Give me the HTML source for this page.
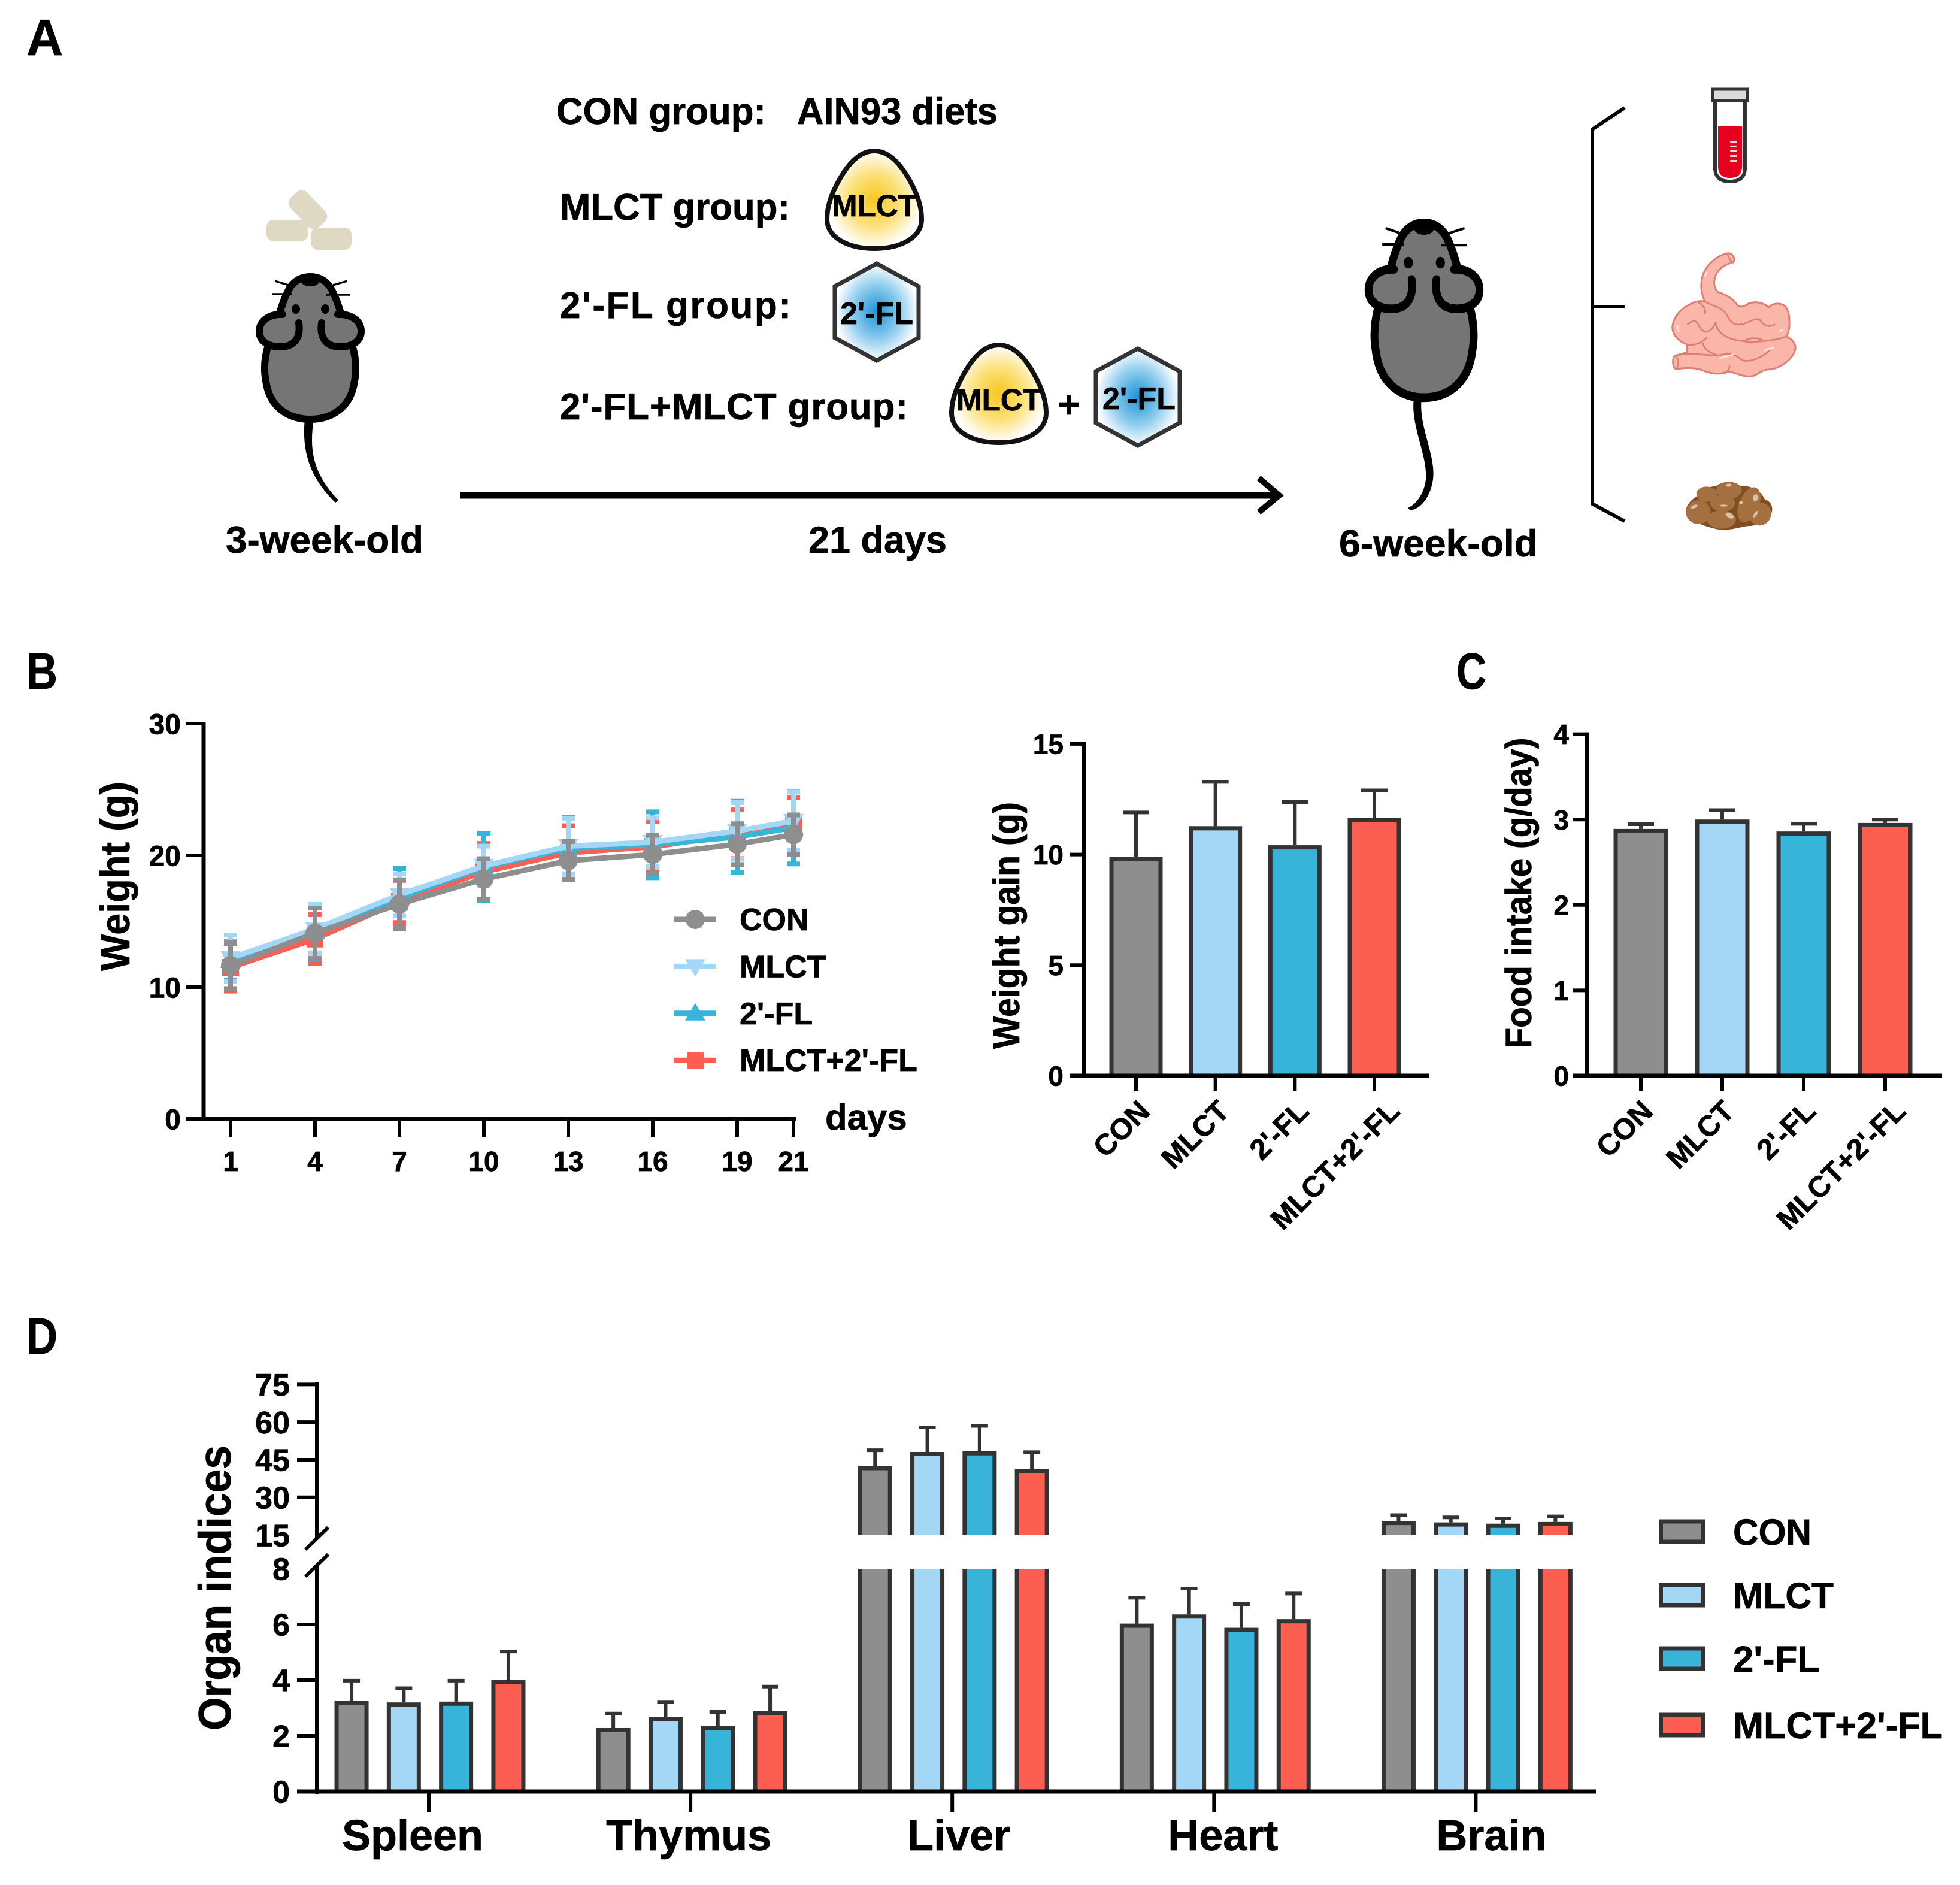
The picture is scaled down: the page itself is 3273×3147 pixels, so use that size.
<!DOCTYPE html>
<html lang="en"><head><meta charset="utf-8"><title>Study design and organ indices</title>
<style>
html,body{margin:0;padding:0;background:#fff}
svg{display:block}
text{font-family:"Liberation Sans",Arial,sans-serif;font-weight:700;fill:#000;stroke:#000;stroke-width:.7px}
</style></head>
<body>
<svg id="fig" xmlns="http://www.w3.org/2000/svg" width="3273" height="3147" viewBox="0 0 3273 3147">
<defs>
<radialGradient id="gy"><stop offset="0" stop-color="#F8C61F"/><stop offset=".55" stop-color="#FBE27E"/><stop offset="1" stop-color="#fff"/></radialGradient>
<radialGradient id="gb"><stop offset="0" stop-color="#1A94D8"/><stop offset=".55" stop-color="#8CCBEC"/><stop offset="1" stop-color="#fff"/></radialGradient>
<g id="mouse">
<path d="M0 6 C-20 6 -32 18 -38 32 C-44 44 -48 56 -52 70 L-70 120 C-76 140 -78 160 -74 180 C-68 225 -35 244 0 244 C35 244 68 225 74 180 C78 160 76 140 70 120 L52 70 C48 56 44 44 38 32 C32 18 20 6 0 6Z" fill="#757575" stroke="#000" stroke-width="12"/>
<path d="M-46 69 C-66 68 -85 78 -85 97 C-85 115 -68 123 -50 123 C-30 123 -15 112 -19 83" fill="#757575" stroke="#000" stroke-width="12" stroke-linecap="round"/>
<path d="M46 69 C66 68 85 78 85 97 C85 115 68 123 50 123 C30 123 15 112 19 83" fill="#757575" stroke="#000" stroke-width="12" stroke-linecap="round"/>
<ellipse cx="0" cy="14" rx="15" ry="8" fill="#000"/>
<ellipse cx="-24" cy="60" rx="7" ry="8" fill="#000"/>
<ellipse cx="25" cy="60" rx="7" ry="8" fill="#000"/>
<path d="M-59 13 L-36 20 M-64 35 L-31 35 M62 13 L38 20 M66 36 L26 36" stroke="#000" stroke-width="3.5" fill="none"/>
</g>
</defs>

<g>
<text x="44" y="92" font-size="85">A</text>
<text x="44" y="1150" font-size="85" textLength="52" lengthAdjust="spacingAndGlyphs">B</text>
<text x="2432" y="1150" font-size="85" textLength="50" lengthAdjust="spacingAndGlyphs">C</text>
<text x="44" y="2260" font-size="85" textLength="52" lengthAdjust="spacingAndGlyphs">D</text>

<g fill="#DDD9C3">
<rect x="445" y="367" width="69" height="36" rx="12"/>
<rect x="519" y="380" width="68" height="37" rx="12"/>
<rect x="480" y="331" width="68" height="38" rx="12" transform="rotate(46 514 350)"/>
</g>
<path d="M509 700 L524 700 C516 750 522 790 565 835 L560 839 C522 802 503 760 509 700Z" fill="#000"/>
<use href="#mouse" transform="translate(518,456)"/>
<path d="M2361 665 L2374 665 C2368 710 2398 760 2393 800 C2389 830 2372 850 2355 852 L2351 848 C2368 840 2379 820 2381 800 C2384 760 2355 710 2361 665Z" fill="#000"/>
<use href="#mouse" transform="translate(2378,365) scale(1.09,1.225)"/>

<text x="929" y="207" font-size="62" textLength="350" lengthAdjust="spacingAndGlyphs">CON group:</text>
<text x="1331" y="207" font-size="62" textLength="335" lengthAdjust="spacingAndGlyphs">AIN93 diets</text>
<text x="935" y="367" font-size="62" textLength="384" lengthAdjust="spacingAndGlyphs">MLCT group:</text>
<text x="935" y="531" font-size="62" textLength="386" lengthAdjust="spacing">2'-FL group:</text>
<text x="935" y="700" font-size="62" textLength="581" lengthAdjust="spacing">2'-FL+MLCT group:</text>

<g transform="translate(1460,334)">
<path d="M0 -82 C-30 -82 -52 -50 -68 -15 C-76 3 -79 18 -79 32 C-79 62 -45 81 0 81 C45 81 79 62 79 32 C79 18 76 3 68 -15 C52 -50 30 -82 0 -82Z" fill="url(#gy)" stroke="#111" stroke-width="8"/>
<text x="0" y="27" font-size="51" text-anchor="middle" textLength="142" lengthAdjust="spacingAndGlyphs">MLCT</text>
</g>
<g transform="translate(1464,521)">
<path d="M0 -81 L70 -43 L70 43 L0 81 L-70 43 L-70 -43Z" fill="url(#gb)" stroke="#333" stroke-width="7"/>
<text x="0" y="20" font-size="52" text-anchor="middle">2'-FL</text>
</g>
<g transform="translate(1668,658)">
<path d="M0 -82 C-30 -82 -52 -50 -68 -15 C-76 3 -79 18 -79 32 C-79 62 -45 81 0 81 C45 81 79 62 79 32 C79 18 76 3 68 -15 C52 -50 30 -82 0 -82Z" fill="url(#gy)" stroke="#111" stroke-width="8"/>
<text x="0" y="27" font-size="51" text-anchor="middle" textLength="142" lengthAdjust="spacingAndGlyphs">MLCT</text>
</g>
<text x="1785" y="697" font-size="64" text-anchor="middle">+</text>
<g transform="translate(1900,663)">
<path d="M0 -81 L70 -43 L70 43 L0 81 L-70 43 L-70 -43Z" fill="url(#gb)" stroke="#333" stroke-width="7"/>
<text x="2" y="20" font-size="52" text-anchor="middle">2'-FL</text>
</g>

<g fill="none" stroke="#000">
<line x1="768" y1="827" x2="2130" y2="827" stroke-width="11"/>
<path d="M2102 798 L2136 827 L2102 855" stroke-width="10"/>
</g>
<text x="377" y="923" font-size="63" textLength="330" lengthAdjust="spacingAndGlyphs">3-week-old</text>
<text x="1350" y="923" font-size="63" textLength="231" lengthAdjust="spacingAndGlyphs">21 days</text>
<text x="2236" y="929" font-size="63" textLength="332" lengthAdjust="spacingAndGlyphs">6-week-old</text>

<path d="M2713 180 L2659 216 L2659 841 L2713 870 M2659 512 L2713 512" fill="none" stroke="#000" stroke-width="6"/>

<g>
<path d="M2864 168 L2864 280 Q2864 303 2889 303 Q2914 303 2914 280 L2914 168Z" fill="#fff" stroke="#333" stroke-width="6"/>
<path d="M2869 212 Q2869 210 2871 210 L2907 210 Q2909 210 2909 212 L2909 278 Q2909 297 2889 297 Q2869 297 2869 278Z" fill="#E60020"/>
<rect x="2860" y="149" width="58" height="19" fill="#D9DCDC" stroke="#333" stroke-width="5"/>
<path d="M2895 235 L2895 271" stroke="#fff" stroke-width="12" stroke-dasharray="3 5" fill="none" opacity=".85"/>
</g>

<g transform="translate(2770,410) scale(.33333)">
<path d="M350 38 C300 45 240 90 220 150 C205 200 215 250 232 280 C215 275 180 278 155 295 C100 320 70 370 68 410 C70 450 100 480 140 495 L140 535 L80 552 C65 570 70 610 85 620 C130 610 180 610 220 625 C260 640 300 650 340 632 C380 630 420 660 460 655 C500 650 510 620 560 620 C620 610 680 560 685 510 C680 480 660 465 640 455 C660 420 660 340 635 305 C610 285 575 285 550 310 C530 290 490 275 450 290 C430 305 410 310 395 300 C370 265 340 245 300 235 C280 220 270 190 285 150 C300 110 340 95 375 80 C385 65 370 40 350 38Z" fill="#FBB6AA" stroke="#DC7F76" stroke-width="9" stroke-linejoin="round"/>
<path d="M80 552 C100 560 105 600 85 620 M345 45 C350 60 360 80 372 85 M232 280 C260 300 320 310 340 345 C355 380 375 400 410 395 C450 390 480 360 505 370 C520 395 545 415 580 395 M285 385 C270 420 255 430 235 432 C205 425 205 395 185 380 C170 375 155 385 145 393 M285 385 C290 430 330 465 400 475 C480 490 590 475 640 455 M195 282 C220 295 235 315 232 340 M240 462 C215 485 190 500 140 497 M222 490 C225 520 260 540 300 550 C370 530 400 560 420 575 C460 585 520 560 555 525 M80 552 C140 535 200 545 300 552 M355 605 C352 620 345 630 330 640 M430 478 C450 490 490 490 515 470 M430 478 C450 462 490 460 515 470" fill="none" stroke="#DC7F76" stroke-width="8" stroke-linecap="round"/>
<path d="M92 400 L100 430 M240 135 L232 155 M305 565 C330 558 355 552 375 545 M530 525 L575 510 M605 430 L620 420" fill="none" stroke="#FDE6E2" stroke-width="8" stroke-linecap="round"/>
</g>

<g transform="translate(2800,790) scale(.33333)">
<path d="M45 190 C50 150 80 130 100 115 C120 80 170 65 200 65 C220 40 290 35 320 65 C360 60 420 80 440 130 C470 140 485 165 475 200 C460 245 400 265 350 265 C300 275 250 290 200 280 C140 265 50 240 45 190Z" fill="#7F4E25"/>
<g fill="#A5703F">
<ellipse cx="108" cy="195" rx="62" ry="60"/>
<ellipse cx="150" cy="105" rx="52" ry="38"/>
<ellipse cx="262" cy="85" rx="64" ry="42"/>
<ellipse cx="230" cy="150" rx="62" ry="42"/>
<ellipse cx="225" cy="232" rx="72" ry="46"/>
<ellipse cx="362" cy="158" rx="50" ry="92" transform="rotate(22 362 158)"/>
<ellipse cx="418" cy="205" rx="54" ry="58" transform="rotate(30 418 205)"/>
</g>
<g fill="#DCC0A8">
<ellipse cx="260" cy="60" rx="14" ry="8"/>
<ellipse cx="88" cy="167" rx="18" ry="8" transform="rotate(-20 88 167)"/>
<ellipse cx="235" cy="162" rx="20" ry="5"/>
<ellipse cx="265" cy="212" rx="22" ry="12" transform="rotate(30 265 212)"/>
<ellipse cx="395" cy="122" rx="14" ry="17" transform="rotate(20 395 122)"/>
<ellipse cx="395" cy="205" rx="7" ry="20" transform="rotate(35 395 205)"/>
<ellipse cx="322" cy="147" rx="10" ry="7"/>
</g>
</g>
</g>

<g id="chartB"></g>
<g id="chartG"></g>
<g id="chartF"></g>
<g id="chartD"></g>
</svg>

<script>
// ---- shared categories ----
const groupNames = ["CON", "MLCT", "2'-FL", "MLCT+2'-FL"];
const groupColors = ["#8E8E8E", "#A4D6F6", "#38B4D9", "#FC5F52"];

// ---- weight over time ----
const weightDays = [1, 4, 7, 10, 13, 16, 19, 21];
const weightTicks = [0, 10, 20, 30];
const weightCON = [11.64, 14.1, 16.3, 18.2, 19.6, 20.07, 20.85, 21.57];
const weightMLCT = [12.2, 14.4, 17.0, 19.2, 20.7, 21.0, 21.85, 22.6];
const weightFL = [12.0, 14.2, 16.75, 19.1, 20.55, 20.8, 21.4, 22.1];
const weightCombo = [11.5, 13.65, 16.5, 18.75, 20.2, 20.65, 21.6, 22.4];
const sdCON = [1.75, 1.9, 1.85, 1.55, 1.45, 1.45, 1.55, 1.5];
const sdMLCT = [1.75, 1.8, 1.6, 1.5, 2.1, 1.85, 2.15, 2.2];
const sdFL = [1.45, 2.05, 2.25, 2.55, 2.35, 2.5, 2.7, 2.75];
const sdCombo = [1.8, 1.85, 1.6, 2.15, 2.05, 1.9, 1.85, 2.0];

// ---- weight gain ----
const gainTicks = [0, 5, 10, 15];
const gainValues = [9.9, 11.28, 10.42, 11.65];
const gainErrors = [2.0, 2.0, 1.95, 1.25];

// ---- food intake ----
const foodTicks = [0, 1, 2, 3, 4];
const foodValues = [2.89, 3.0, 2.86, 2.96];
const foodErrors = [0.055, 0.11, 0.09, 0.04];

// ---- organ indices ----
const organNames = ["Spleen", "Thymus", "Liver", "Heart", "Brain"];
const organTicksLow = [0, 2, 4, 6, 8];
const organTicksHigh = [15, 30, 45, 60, 75];
const organCON = [3.25, 2.28, 42.5, 6.03, 20.6];
const organMLCT = [3.2, 2.68, 48.1, 6.36, 20.0];
const organFL = [3.23, 2.36, 48.4, 5.88, 19.5];
const organCombo = [4.02, 2.9, 41.3, 6.19, 20.2];
const organErrCON = [0.73, 0.52, 6.3, 0.93, 2.3];
const organErrMLCT = [0.51, 0.54, 9.8, 0.93, 2.0];
const organErrFL = [0.75, 0.5, 10.1, 0.85, 2.1];
const organErrCombo = [1.01, 0.87, 6.7, 0.92, 2.2];

const NS = "http://www.w3.org/2000/svg";
const DARK = "#333";
function mk(parent, tag, attrs, txt) {
  const el = document.createElementNS(NS, tag);
  for (const k in attrs) el.setAttribute(k, attrs[k]);
  if (txt !== undefined) el.textContent = txt;
  parent.appendChild(el);
  return el;
}
function slug(s) { return s.toLowerCase().replace(/[^a-z0-9]+/g, '-').replace(/^-|-$/g, ''); }

// axis functions
const xB = d => 385 + (d - 1) * 47;
const yB = v => 1868 - v * 22;
const xG = i => 1897 + i * 132.67;
const yG = v => 1796 - v * 36.94;
const xF = i => 2740 + i * 136;
const yF = v => 1796 - v * 142.6;
const xD = i => 716 + i * 437.1;
const yDlow = v => 2991 - v * 46.5;
const yDup = v => 2562.6 - (v - 15) * 4.187;

function yTick(g, axisX, y, len, label, labelRight, fs, hideTick) {
  if (!hideTick) {
    const t = mk(g, 'line', {x1: axisX - len, x2: axisX, y1: y, y2: y, stroke: '#000', 'stroke-width': 6});
    
    
  }
  const l = mk(g, 'text', {x: labelRight, y: y + fs * 0.36, 'font-size': fs, 'text-anchor': 'end'}, label);
  
  
}
function rotTitle(g, x, y, fs, s, name, len) {
  const t = mk(g, 'text', {transform: `translate(${x},${y}) rotate(-90)`, 'font-size': fs, 'text-anchor': 'middle', textLength: len, lengthAdjust: 'spacingAndGlyphs'}, s);
  
  
}
function axisLine(g, x1, y1, x2, y2, w, name) {
  const a = mk(g, 'line', {x1, y1, x2, y2, stroke: '#000', 'stroke-width': w});
  
  
}

// ---------- line chart ----------
(function () {
  const g = document.getElementById('chartB');
  axisLine(g, 340, 1205, 340, 1871, 7, 'y-axis');
  axisLine(g, 311, 1868, 1330, 1868, 6, 'x-axis');
  weightTicks.forEach(v => yTick(g, 340, yB(v), 29, String(v), 302, 48));
  weightDays.forEach(d => {
    const t = mk(g, 'line', {x1: xB(d), x2: xB(d), y1: 1868, y2: 1898, stroke: '#000', 'stroke-width': 6});
    
    
    const l = mk(g, 'text', {x: xB(d), y: 1955, 'font-size': 46, 'text-anchor': 'middle'}, String(d));
    
    
  });
  rotTitle(g, 216, 1463, 69, 'Weight (g)', 'y-axis-title', 316);
  const dl = mk(g, 'text', {x: 1378, y: 1886, 'font-size': 60}, 'days');
  
  

  function marker(pg, idx, cx, cy, color) {
    let m;
    if (idx === 0) m = mk(pg, 'circle', {cx, cy, r: 16, fill: color});
    else if (idx === 1) m = mk(pg, 'path', {d: `M${cx - 17} ${cy - 12} L${cx + 17} ${cy - 12} L${cx} ${cy + 17}Z`, fill: color});
    else if (idx === 2) m = mk(pg, 'path', {d: `M${cx - 17} ${cy + 12} L${cx + 17} ${cy + 12} L${cx} ${cy - 17}Z`, fill: color});
    else m = mk(pg, 'rect', {x: cx - 14, y: cy - 14, width: 28, height: 28, fill: color});
    
    
  }
  const means = [weightCON, weightMLCT, weightFL, weightCombo];
  const sds = [sdCON, sdMLCT, sdFL, sdCombo];
  [3, 2, 1, 0].forEach(si => {
    const sg = mk(g, 'g', {});
    
    
    const color = groupColors[si];
    weightDays.forEach((d, i) => {
      const x = xB(d), hi = yB(means[si][i] + sds[si][i]), lo = yB(means[si][i] - sds[si][i]);
      const e = mk(sg, 'path', {d: `M${x} ${hi} L${x} ${lo} M${x - 11} ${hi} L${x + 11} ${hi} M${x - 11} ${lo} L${x + 11} ${lo}`, stroke: color, 'stroke-width': 8, fill: 'none'});
      
      
    });
    const pts = weightDays.map((d, i) => xB(d) + ',' + yB(means[si][i])).join(' ');
    const ln = mk(sg, 'polyline', {points: pts, fill: 'none', stroke: color, 'stroke-width': 9, 'stroke-linejoin': 'round'});
    
    
    weightDays.forEach((d, i) => marker(sg, si, xB(d), yB(means[si][i]), color));
  });
  groupNames.forEach((name, i) => {
    const y = 1535 + i * 78.4;
    const lg = mk(g, 'g', {});
    
    
    const s = mk(lg, 'line', {x1: 1126, x2: 1196, y1: y, y2: y, stroke: groupColors[i], 'stroke-width': 9});
    
    
    marker(lg, i, 1161, y, groupColors[i]);
    const t = mk(lg, 'text', {x: 1235, y: y + 18, 'font-size': 52}, name);
    
    
  });
})();

// ---------- simple bar charts ----------
function simpleBars(gid, xf, yf, vals, errs, ticks, axisX, xEnd, lblRight, barW, shift, lastShift) {
  const g = document.getElementById(gid);
  axisLine(g, axisX, yf(ticks[ticks.length - 1]) - 3, axisX, 1799, 6, 'y-axis');
  ticks.forEach(v => yTick(g, axisX, yf(v), 24, String(v), lblRight, 46));
  vals.forEach((v, i) => {
    const x = xf(i), top = yf(v), cap = yf(v + errs[i]);
    const e = mk(g, 'path', {d: `M${x} ${top} L${x} ${cap} M${x - 22} ${cap} L${x + 22} ${cap}`, stroke: DARK, 'stroke-width': 6, fill: 'none'});
    
    
    const b = mk(g, 'rect', {x: x - barW / 2 + 3.5, y: top + 3.5, width: barW - 7, height: 1796 - top - 3.5, fill: groupColors[i], stroke: DARK, 'stroke-width': 7});
    
    
    const t = mk(g, 'line', {x1: x, x2: x, y1: 1796, y2: 1822, stroke: '#000', 'stroke-width': 6});
    
    
    const ax = x + (i === 3 ? lastShift : shift);
    const l = mk(g, 'text', {transform: `translate(${ax},1858) rotate(-45)`, 'font-size': 49, 'text-anchor': 'end'}, groupNames[i]);
    
    
  });
  axisLine(g, axisX - 24, 1796, xEnd, 1796, 7, 'x-axis');
}
simpleBars('chartG', xG, yG, gainValues, gainErrors, gainTicks, 1810, 2386, 1776, 89, 26, 45);
simpleBars('chartF', xF, yF, foodValues, foodErrors, foodTicks, 2650, 3243, 2620, 91, 23, 37);
rotTitle(document.getElementById('chartG'), 1702, 1545, 62, 'Weight gain (g)', 'y-axis-title', 412);
rotTitle(document.getElementById('chartF'), 2557, 1491, 61, 'Food intake (g/day)', 'y-axis-title', 519);

// ---------- organ chart with broken axis ----------
(function () {
  const g = document.getElementById('chartD');
  const breakTop = yDup(15), breakBottom = yDlow(8);
  axisLine(g, 529, 2308, 529, 2568, 6, 'y-axis-upper');
  axisLine(g, 529, 2614, 529, 2995, 6, 'y-axis-lower');
  const sl = mk(g, 'path', {d: 'M510 2587 L548 2550 M510 2632 L548 2595', stroke: '#000', 'stroke-width': 6, fill: 'none'});
  
  
  organTicksHigh.forEach(v => yTick(g, 529, yDup(v), 33, String(v), 484, 52, v === 15));
  organTicksLow.forEach(v => yTick(g, 529, yDlow(v), 33, String(v), 484, 52, v === 8));
  rotTitle(g, 385, 2651, 76, 'Organ indices', 'y-axis-title', 476);
  const series = [organCON, organMLCT, organFL, organCombo];
  const errs = [organErrCON, organErrMLCT, organErrFL, organErrCombo];
  const W = 57, SW = 7;
  const labelDx = [-27, -3, 11, 15, 26];
  organNames.forEach((org, oi) => {
    const t = mk(g, 'line', {x1: xD(oi), x2: xD(oi), y1: 2991, y2: 3025, stroke: '#000', 'stroke-width': 6});
    
    
    const l = mk(g, 'text', {x: xD(oi) + labelDx[oi], y: 3089, 'font-size': 72, 'text-anchor': 'middle'}, org);
    
    
    series.forEach((s, si) => {
      const v = s[oi], cx = xD(oi) + 2 + (si - 1.5) * 87.3, color = groupColors[si], e = errs[si][oi];
      const left = cx - W / 2 + SW / 2, right = cx + W / 2 - SW / 2;
      const bg = mk(g, 'g', {});
      
      
      const big = v > 8;
      const top = big ? yDup(v) : yDlow(v);
      const cap = big ? yDup(v + e) : yDlow(v + e);
      mk(bg, 'path', {d: `M${cx} ${top} L${cx} ${cap} M${cx - 14} ${cap} L${cx + 14} ${cap}`, stroke: DARK, 'stroke-width': 6, fill: 'none'});
      if (big) {
        mk(bg, 'rect', {x: left, y: top + SW / 2, width: right - left, height: breakTop - top - SW / 2, fill: color});
        mk(bg, 'path', {d: `M${left} ${breakTop} L${left} ${top + SW / 2} L${right} ${top + SW / 2} L${right} ${breakTop}`, stroke: DARK, 'stroke-width': SW, fill: 'none'});
        mk(bg, 'rect', {x: left, y: breakBottom, width: right - left, height: 2991 - breakBottom, fill: color});
        mk(bg, 'path', {d: `M${left} ${breakBottom} L${left} 2991 M${right} ${breakBottom} L${right} 2991`, stroke: DARK, 'stroke-width': SW, fill: 'none'});
      } else {
        mk(bg, 'rect', {x: left, y: top + SW / 2, width: right - left, height: 2991 - top - SW / 2, fill: color, stroke: DARK, 'stroke-width': SW});
      }
    });
  });
  axisLine(g, 496, 2991, 2665, 2991, 7, 'x-axis');
  groupNames.forEach((name, i) => {
    const y = 2557 + i * 106 + (i === 3 ? 5 : 0);
    const lg = mk(g, 'g', {});
    
    
    const sw = mk(lg, 'rect', {x: 2773.5, y: y - 17, width: 70, height: 34, fill: groupColors[i], stroke: DARK, 'stroke-width': 7});
    
    
    const t = mk(lg, 'text', {x: 2894, y: y + 22, 'font-size': 61, textLength: [131, 168, 145, 350][i], lengthAdjust: 'spacingAndGlyphs'}, name);
    
    
  });
})();
</script>
</body></html>
